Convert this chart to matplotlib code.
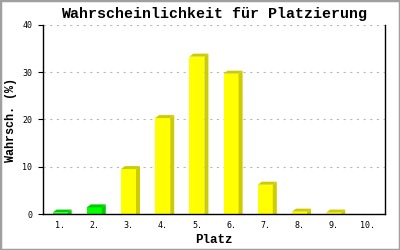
import matplotlib
matplotlib.use("Agg")
import matplotlib.pyplot as plt
from matplotlib.patches import Polygon, Rectangle

# data
places = ["1.", "2.", "3.", "4.", "5.", "6.", "7.", "8.", "9.", "10."]
probs = [0.3, 1.4, 9.5, 20.3, 33.3, 29.7, 6.2, 0.5, 0.3, 0.0]
front_cols = ["#00ff00", "#00ff00"] + ["#ffff00"] * 8
shade_cols = ["#00cc00", "#00cc00"] + ["#cccc00"] * 8

fig = plt.figure(figsize=(4, 2.5), dpi=100)
ax = fig.add_axes([0.1075, 0.144, 0.855, 0.756])

ax.set_xlim(0, 10)
ax.set_ylim(0, 40)

# 3d depth in pixels -> data units
px_x = 342 / 10.0
px_y = 189 / 40.0
dx = 4 / px_x
dy = 3 / px_y
w = 15 / px_x

xs = [i + 0.5 for i in range(len(places))]
for x, h, fc, sc in zip(xs, probs, front_cols, shade_cols):
    if h <= 0:
        continue
    x0 = x - w / 2
    x1 = x + w / 2
    ax.bar(x, h, width=w, color=fc, linewidth=0, zorder=3)
    ax.add_patch(Polygon([(x0, h), (x0 + dx, h + dy), (x1 + dx, h + dy), (x1, h)],
                         closed=True, facecolor=sc, edgecolor="none", zorder=3))
    ax.add_patch(Polygon([(x1, 0), (x1, h), (x1 + dx, h + dy), (x1 + dx, 0)],
                         closed=True, facecolor=sc, edgecolor="none", zorder=3))

ax.set_xticks(xs)
ax.set_xticklabels(places)
ax.set_yticks([0, 10, 20, 30, 40])
ax.tick_params(axis="x", length=0, pad=5, labelsize=6)
ax.tick_params(axis="y", length=3.6, width=0.8, pad=4, labelsize=6, direction="out")
for lab in ax.get_xticklabels() + ax.get_yticklabels():
    lab.set_family("DejaVu Sans Mono")

ax.yaxis.grid(True, color="#b8b8b8", linewidth=0.8, linestyle=(0, (2, 4)), zorder=0)
ax.set_axisbelow(True)

ax.spines["top"].set_visible(False)
for s in ["left", "right", "bottom"]:
    ax.spines[s].set_linewidth(1.0)
    ax.spines[s].set_color("black")
    ax.spines[s].set_zorder(4)

ax.set_title("Wahrscheinlichkeit für Platzierung", family="Liberation Mono",
             fontweight="bold", fontsize=10.8, pad=5)
ax.set_ylabel("Wahrsch. (%)", family="Liberation Mono", fontweight="bold",
              fontsize=8.5, labelpad=4)
ax.set_xlabel("Platz", family="Liberation Mono", fontweight="bold",
              fontsize=9, labelpad=3)

# grey frame round the picture
fig.patches.append(Rectangle((0, 0), 1, 1, transform=fig.transFigure,
                             fill=False, edgecolor="#a0a0a0", linewidth=2.5))

fig.savefig("out.png", dpi=100)
